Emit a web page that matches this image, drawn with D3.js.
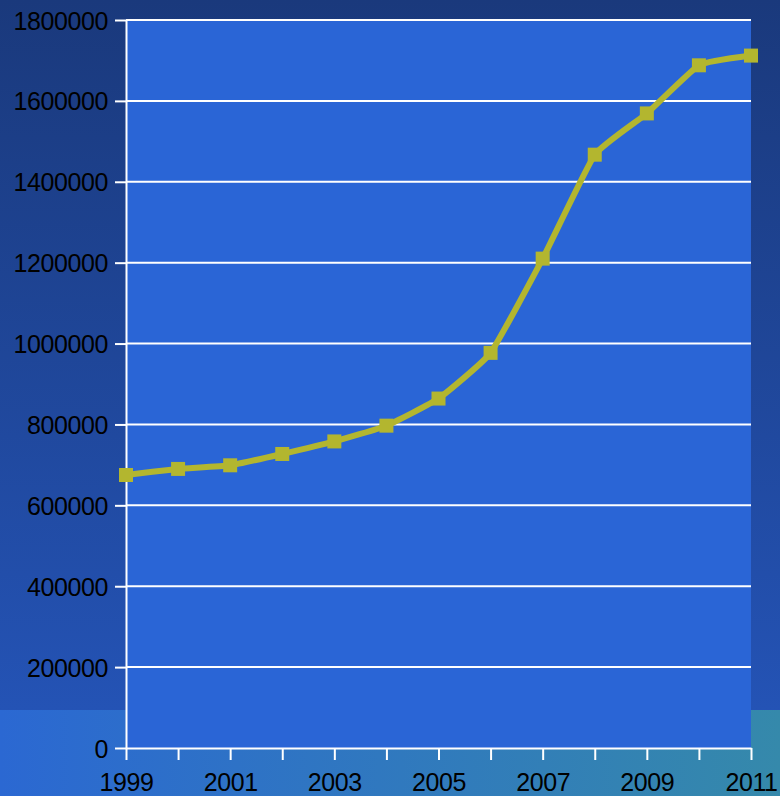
<!DOCTYPE html>
<html>
<head>
<meta charset="utf-8">
<script src="https://cdn.jsdelivr.net/npm/d3@7"></script>
<style>
  html, body { margin: 0; padding: 0; background: #1b3b7f; }
  svg { display: block; }
  text { font-family: "Liberation Sans", Arial, sans-serif; }
</style>
</head>
<body>
<div id="container"></div>
<script>
const years = [1999, 2000, 2001, 2002, 2003, 2004, 2005, 2006, 2007, 2008, 2009, 2010, 2011];
const values = [675000, 690000, 699000, 727000, 758000, 797000, 864000, 977000, 1210000, 1467000, 1569000, 1688000, 1712000];
const yTicks = [0, 200000, 400000, 600000, 800000, 1000000, 1200000, 1400000, 1600000, 1800000];
const xLabels = [1999, 2001, 2003, 2005, 2007, 2009, 2011];

const w = 780, h = 796;
const margin = {top: 20, left: 126, bottom: 48, right: 29};
const graphWidth = w - margin.left - margin.right;
const graphHeight = h - margin.top - margin.bottom;

const svg = d3.select("#container").append("svg").attr("width", w).attr("height", h);

// page background
const defs = svg.append("defs");
const bgGrad = defs.append("linearGradient").attr("id", "bg").attr("x1", 0).attr("y1", 0).attr("x2", 0).attr("y2", 1);
bgGrad.append("stop").attr("offset", "0%").attr("stop-color", "#1a397c");
bgGrad.append("stop").attr("offset", "100%").attr("stop-color", "#2453b5");
const bandGrad = defs.append("linearGradient").attr("id", "band").attr("x1", 0).attr("y1", 0).attr("x2", 1).attr("y2", 0);
bandGrad.append("stop").attr("offset", "0%").attr("stop-color", "#2b68d2");
bandGrad.append("stop").attr("offset", "100%").attr("stop-color", "#3589ab");

svg.append("rect").attr("width", w).attr("height", 710).attr("fill", "url(#bg)");
svg.append("rect").attr("y", 710).attr("width", w).attr("height", h - 710).attr("fill", "url(#band)");

const graph = svg.append("g").attr("transform", `translate(${margin.left}, ${margin.top})`);

graph.append("rect")
  .attr("width", graphWidth)
  .attr("height", graphHeight)
  .attr("fill", "#2a65d6");

const xScale = d3.scaleLinear()
  .domain([d3.min(years), d3.max(years)])
  .range([0, graphWidth]);

const yScale = d3.scaleLinear()
  .domain([0, 1800000])
  .range([graphHeight, 0]);

// gridlines
graph.append("g")
  .selectAll("line")
  .data(yTicks.filter(d => d > 0))
  .enter()
  .append("line")
    .attr("x1", 0)
    .attr("x2", graphWidth)
    .attr("y1", d => yScale(d))
    .attr("y2", d => yScale(d))
    .attr("stroke", "#ffffff")
    .attr("stroke-width", 2);

const xAxis = d3.axisBottom(xScale)
  .tickValues(years)
  .tickSize(12)
  .tickSizeOuter(0)
  .tickFormat(d => xLabels.includes(d) ? d : "");
const yAxis = d3.axisLeft(yScale)
  .tickValues(yTicks)
  .tickSize(11)
  .tickSizeOuter(0)
  .tickFormat(d3.format("d"));

const xAxisGroup = graph.append("g").attr("transform", `translate(0, ${graphHeight})`).call(xAxis);
const yAxisGroup = graph.append("g").call(yAxis);

[xAxisGroup, yAxisGroup].forEach(g => {
  g.select(".domain").attr("stroke", "#ffffff").attr("stroke-width", 2);
  g.selectAll(".tick line").attr("stroke", "#ffffff").attr("stroke-width", 2);
  g.selectAll(".tick text").attr("fill", "#000000").attr("font-size", 25)
    .attr("letter-spacing", "-0.4px")
    .attr("font-family", "'Liberation Sans', Arial, sans-serif");
});
xAxisGroup.selectAll(".tick text").attr("dy", "0").attr("y", 43);
yAxisGroup.selectAll(".tick text").attr("x", -18).attr("dy", "0.36em");

// line + markers
const line = d3.line()
  .x((d, i) => xScale(years[i]))
  .y(d => yScale(d))
  .curve(d3.curveCardinal.tension(0.6));

graph.append("path")
  .datum(values)
  .attr("d", line)
  .attr("fill", "none")
  .attr("stroke", "#b3b62f")
  .attr("stroke-width", 6)
  .attr("stroke-linejoin", "round");

graph.selectAll("rect.marker")
  .data(values)
  .enter()
  .append("rect")
    .attr("class", "marker")
    .attr("x", (d, i) => xScale(years[i]) - 7)
    .attr("y", d => yScale(d) - 7)
    .attr("width", 14)
    .attr("height", 14)
    .attr("fill", "#b3b62f");
</script>
</body>
</html>
